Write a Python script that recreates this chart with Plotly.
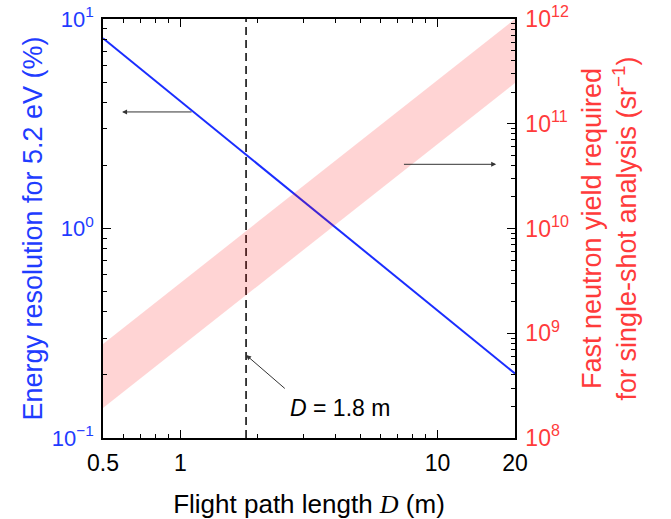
import math
import plotly.graph_objects as go

# ---- data ----
D_ends = [0.5, 20]                 # flight path length range (m)
resolution = [8.1, 0.203]          # energy resolution for 5.2 eV (%)
yield_upper = [7.9e8, 1.0e12]      # fast neutron yield upper bound (sr^-1)
yield_lower = [1.93e8, 2.45e11]    # fast neutron yield lower bound (sr^-1)
D_marker = 1.8                     # chosen flight path length (m)
marker_span = [0.1, 10]

x_tickvals = [0.5, 1, 10, 20]
x_ticktext = ["0.5", "1", "10", "20"]
x_minor = [0.6, 0.7, 0.8, 0.9, 2, 3, 4, 5, 6, 7, 8, 9]
y1_tickvals = [0.1, 1, 10]
y1_ticktext = ["10<sup>\u22121</sup>", "10<sup>0</sup>", "10<sup>1</sup>"]
y1_minor = [m * 10 ** e for e in (-1, 0) for m in range(2, 10)]
y2_tickvals = [1e8, 1e9, 1e10, 1e11, 1e12]
y2_ticktext = ["10<sup>8</sup>", "10<sup>9</sup>", "10<sup>10</sup>",
               "10<sup>11</sup>", "10<sup>12</sup>"]
y2_minor = [m * 10 ** e for e in (8, 9, 10, 11) for m in range(2, 10)]

BLUE = "#1f3cff"
LINEBLUE = "#1a2dff"
RED = "#ff3b3b"
FONT = "Liberation Sans, Arial, sans-serif"

fig = go.Figure()

# dashed marker line
fig.add_trace(go.Scatter(x=[D_marker, D_marker], y=marker_span, mode="lines",
                         line=dict(color="black", width=1.5, dash="8px,5px"),
                         yaxis="y", showlegend=False, hoverinfo="skip"))

# resolution line
fig.add_trace(go.Scatter(x=D_ends, y=resolution, mode="lines",
                         line=dict(color=LINEBLUE, width=2),
                         yaxis="y", showlegend=False))

# band on right axis
fig.add_trace(go.Scatter(x=D_ends, y=yield_lower, mode="lines",
                         line=dict(width=0), yaxis="y2", showlegend=False))
fig.add_trace(go.Scatter(x=D_ends, y=yield_upper, mode="lines",
                         line=dict(width=0), fill="tonexty",
                         fillcolor="rgba(255,0,0,0.17)",
                         yaxis="y2", showlegend=False))


def minor(vals):
    return dict(tickmode="array", tickvals=vals, ticks="inside", ticklen=4,
                tickcolor="black", tickwidth=1, showgrid=False)


fig.update_layout(
    width=671, height=519,
    margin=dict(l=103, r=156, t=19, b=81),
    paper_bgcolor="white", plot_bgcolor="white",
    font=dict(family=FONT, size=22, color="black"),
    xaxis=dict(type="log", range=[math.log10(0.5), math.log10(20)],
               tickvals=x_tickvals, ticktext=x_ticktext, automargin=False,
               ticks="inside", ticklen=8, tickwidth=1, tickcolor="black",
               minor=minor(x_minor), ticklabelstandoff=4,
               ticklabeloverflow="allow",
               showline=True, linecolor="black", linewidth=1.5, mirror="ticks",
               showgrid=False, zeroline=False,
               tickfont=dict(size=23, color="black"),
               title=dict(text="Flight path length <span style='font-family:Liberation Serif'><i>D</i></span> (m)",
                          font=dict(size=26, color="black"), standoff=22)),
    yaxis=dict(type="log", range=[-1, 1], automargin=False,
               tickvals=y1_tickvals, ticktext=y1_ticktext,
               ticks="inside", ticklen=8, tickwidth=1, tickcolor="black",
               minor=minor(y1_minor), ticklabelstandoff=3,
               ticklabeloverflow="allow",
               showline=True, linecolor="black", linewidth=1.5,
               showgrid=False, zeroline=False,
               tickfont=dict(size=22, color=BLUE),
               title=dict(text="Energy resolution for 5.2 eV (%)",
                          font=dict(size=27, color=BLUE), standoff=1)),
    yaxis2=dict(type="log", range=[8, 12], overlaying="y", side="right",
                automargin=False,
                tickvals=y2_tickvals, ticktext=y2_ticktext,
                ticks="inside", ticklen=8, tickwidth=1, tickcolor="black",
                minor=minor(y2_minor), ticklabelstandoff=4,
                ticklabeloverflow="allow",
                showline=True, linecolor="black", linewidth=1.5,
                showgrid=False, zeroline=False,
                tickfont=dict(size=23, color=RED),
                title=dict(text="Fast neutron yield required<br>for single-shot analysis (sr<sup>\u22121</sup>)",
                           font=dict(size=27, color=RED), standoff=14)),
)

L = math.log10
arrow = dict(showarrow=True, arrowhead=2, arrowsize=1.0, arrowwidth=1,
             arrowcolor="#333", text="")
fig.add_annotation(x=L(0.593), y=L(3.6), ax=L(1.12), ay=L(3.6),
                   xref="x", yref="y", axref="x", ayref="y", **arrow)
fig.add_annotation(x=L(16.9), y=L(4.1e10), ax=L(7.3), ay=L(4.1e10),
                   xref="x", yref="y2", axref="x", ayref="y2", **arrow)
fig.add_annotation(x=L(1.8), y=L(0.249), ax=L(2.58), ay=L(0.17),
                   xref="x", yref="y", axref="x", ayref="y", **arrow)
fig.add_annotation(x=L(4.18), y=L(0.139), xref="x", yref="y",
                   text="<i>D</i> = 1.8 m", showarrow=False,
                   font=dict(size=23, color="black"))

fig.write_html("out.html",
               config={"displayModeBar": False},
               post_script="document.body.style.margin='0';")
